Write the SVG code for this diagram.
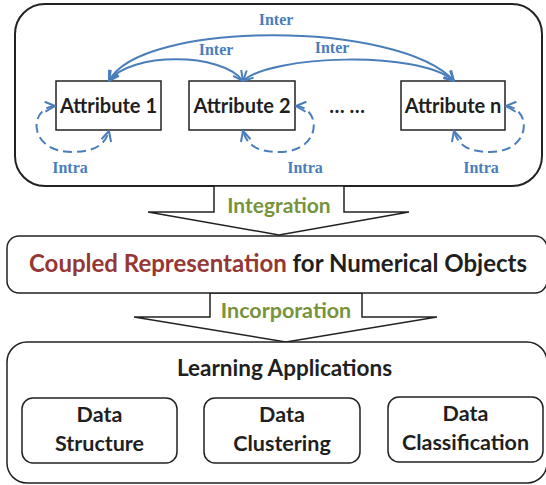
<svg xmlns="http://www.w3.org/2000/svg" width="546" height="485" viewBox="0 0 546 485">
<defs>
<style>
.frame{fill:#fff;stroke:#222;stroke-width:2}
.box{fill:#fff;stroke:#222;stroke-width:1.5}
.blk{fill:#fff;stroke:#222;stroke-width:1.5;stroke-linejoin:miter}
.t{font-family:Lato,"Open Sans",sans-serif;font-weight:bold;fill:#1f1f1f;text-anchor:middle}
.g{fill:#77933c}
.r{fill:#953735}
.lbl{font-family:"Liberation Serif",serif;font-weight:bold;font-size:16px;fill:#4a7ebb;text-anchor:middle}
.inter{fill:none;stroke:#4a7ebb;stroke-width:2;marker-start:url(#ah);marker-end:url(#ah)}
.intra{fill:none;stroke:#4a7ebb;stroke-width:2;stroke-dasharray:9 5;marker-start:url(#ah);marker-end:url(#ah)}
</style>
<marker id="ah" viewBox="0 0 12 12" refX="11" refY="6" markerWidth="12" markerHeight="12" markerUnits="userSpaceOnUse" orient="auto-start-reverse">
<path d="M1,1 L11,6 L1,11" fill="none" stroke="#4a7ebb" stroke-width="2"/>
</marker>
</defs>

<g id="top-frame">
<rect class="frame" x="15" y="4" width="527" height="182" rx="30" ry="30"/>
</g>

<g id="arrow-integration">
<polygon class="blk" points="214,186 214,212 148,212 279,235 409,212 344,212 344,186"/>
<text class="t g" x="279" y="213" font-size="21">Integration</text>
</g>

<g id="arrow-incorporation">
<polygon class="blk" points="210,293 210,317 134,317 286,342 437,317 362,317 362,293"/>
<text class="t g" x="286" y="318" font-size="21.5">Incorporation</text>
</g>

<g id="attr1">
<rect class="box" x="56" y="81" width="105" height="49"/>
<text class="t" x="108.5" y="113" font-size="20">Attribute 1</text>
</g>
<g id="attr2">
<rect class="box" x="189" y="81" width="106" height="49"/>
<text class="t" x="242" y="113" font-size="20">Attribute 2</text>
</g>
<g id="dots">
<text class="t" x="347" y="113" font-size="20">… …</text>
</g>
<g id="attrn">
<rect class="box" x="401" y="81" width="104" height="49"/>
<text class="t" x="453" y="113" font-size="20">Attribute n</text>
</g>

<g id="connectors">
<path class="inter" d="M109,81 C140,20 400,20 454,81"/>
<path class="inter" d="M109,81 C130,52 222,52 243,81"/>
<path class="inter" d="M243,81 C270,55 420,50 454,81"/>
<path class="intra" d="M55,106 C28,108 28,152 72,152 C94,152 105,145 109,131"/>
<path class="intra" d="M296,106 C322,108 322,152 279,152 C257,152 247,145 243,131"/>
<path class="intra" d="M506,106 C532,108 532,152 490,152 C468,152 458,145 454,131"/>
<text class="lbl" x="276" y="25">Inter</text>
<text class="lbl" x="216" y="55">Inter</text>
<text class="lbl" x="332" y="53">Inter</text>
<text class="lbl" x="70" y="173">Intra</text>
<text class="lbl" x="305" y="173">Intra</text>
<text class="lbl" x="481" y="173">Intra</text>
</g>

<g id="coupled">
<rect class="box" x="7" y="236" width="540" height="57" rx="12" ry="12"/>
<text class="t" x="278" y="272" font-size="24"><tspan class="r">Coupled Representation</tspan> for Numerical Objects</text>
</g>

<g id="learning">
<rect class="box" x="7" y="342" width="540" height="141" rx="20" ry="20"/>
<text class="t" x="284.5" y="376" font-size="22.5">Learning Applications</text>
</g>
<g id="ds">
<rect class="box" x="22" y="398" width="155" height="65" rx="11" ry="11"/>
<text class="t" x="99.5" y="422" font-size="21.5">Data</text>
<text class="t" x="99.5" y="451" font-size="21.5">Structure</text>
</g>
<g id="dc">
<rect class="box" x="204" y="398" width="156" height="65" rx="11" ry="11"/>
<text class="t" x="282" y="422" font-size="21.5">Data</text>
<text class="t" x="282" y="451" font-size="21.5">Clustering</text>
</g>
<g id="dcl">
<rect class="box" x="388" y="397" width="155" height="65" rx="11" ry="11"/>
<text class="t" x="465.5" y="421" font-size="21.5">Data</text>
<text class="t" x="465.5" y="450" font-size="21.5">Classification</text>
</g>
</svg>
